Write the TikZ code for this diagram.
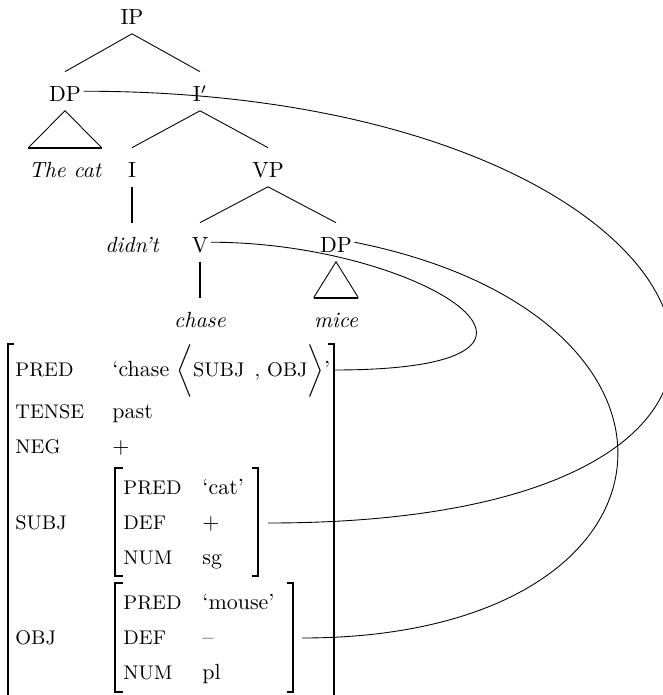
\documentclass[tikz,border=0pt]{standalone}

\begin{document}
\begin{tikzpicture}[x=0.455pt, y=-0.455pt,
    tn/.style={anchor=base, inner xsep=1pt, inner ysep=3.8pt,
        text height=9.8pt, text depth=0pt},
    leaf/.style={tn, inner xsep=0pt, font=\itshape},
    attr/.style={anchor=base west, inner sep=0pt, font=\small},
    val/.style={anchor=base west, inner sep=0pt}]
    \useasboundingbox (0, 0) rectangle (662, 695);
    % дерево
    \node[tn] (ip) at (132, 25) {IP};
    \node[tn] (dpa) at (65, 102) {DP};
    \node[tn] (ibar) at (200, 102) {I$'$};
    \node[leaf] (cat) at (65, 178) {The cat};
    \node[tn] (i) at (132, 178) {I};
    \node[tn] (vp) at (268, 178) {VP};
    \node[leaf] (didnt) at (132, 253) {didn't};
    \node[tn] (v) at (200, 253) {V};
    \node[tn] (dpb) at (336, 253) {DP};
    \node[leaf] (chase) at (200, 328) {chase};
    \node[leaf] (mice) at (336, 328) {mice};

    \draw (ip.south) -- (dpa.north);
    \draw (ip.south) -- (ibar.north);
    \draw (ibar.south) -- (i.north);
    \draw (ibar.south) -- (vp.north);
    \draw (vp.south) -- (v.north);
    \draw (vp.south) -- (dpb.north);
    \draw[thick] (i.south) -- (didnt.north);
    \draw[thick] (v.south) -- (chase.north);
    % треугольники
    \draw (cat.north west) -- (dpa.south) -- (cat.north east);
    \draw[thick] (cat.north west) -- (cat.north east);
    \draw (mice.north west) -- (dpb.south) -- (mice.north east);
    \draw[thick] (mice.north west) -- (mice.north east);

    % f-структура
    \draw[thick] (14, 344) -- (8, 344) -- (8, 705) -- (14, 705);
    \draw[thick] (328, 344) -- (334, 344) -- (334, 705) -- (328, 705);
    \node[attr] (fpred) at (15, 376) {PRED};
    \node[attr] (ftense) at (15, 418) {TENSE};
    \node[attr] (fneg) at (15, 453) {NEG};
    \node[attr] (fsubj) at (15, 529) {SUBJ};
    \node[attr] (fobj) at (15, 644) {OBJ};
    \node[val] (fchase) at (112, 376)
        {`chase $\bigg\langle${\small SUBJ\ \,, OBJ}$\bigg\rangle$'};
    \node[val] (fpast) at (112, 418) {past};
    \node[val] (fplus) at (112, 453) {$+$};
    \coordinate (predR) at (334, 370);

    % subj
    \draw[thick] (123, 468) -- (115, 468) -- (115, 576) -- (123, 576);
    \draw[thick] (252, 468) -- (258, 468) -- (258, 576) -- (252, 576);
    \node[attr] (spred) at (123, 494) {PRED};
    \node[attr] (sdef) at (123, 529) {DEF};
    \node[attr] (snum) at (123, 564) {NUM};
    \node[val] (scat) at (202, 494) {`cat'};
    \node[val] (splus) at (202, 529) {$+$};
    \node[val] (ssg) at (202, 564) {sg};
    \coordinate (subjR) at (268, 523);

    % obj
    \draw[thick] (123, 583) -- (115, 583) -- (115, 692) -- (123, 692);
    \draw[thick] (287, 583) -- (293, 583) -- (293, 692) -- (287, 692);
    \node[attr] (opred) at (123, 609) {PRED};
    \node[attr] (odef) at (123, 644) {DEF};
    \node[attr] (onum) at (123, 679) {NUM};
    \node[val] (omouse) at (202, 609) {`mouse'};
    \node[val] (ominus) at (202, 644) {--};
    \node[val] (opl) at (202, 679) {pl};
    \coordinate (objR) at (302, 638);

    % связи
    \draw (dpa.east) .. controls +(655, 0) and +(645, 0) .. (subjR);
    \draw (v.east) .. controls +(210, 0) and +(286, 0) .. (predR);
    \draw (dpb.east) .. controls +(375, 75) and +(395, 0) .. (objR);
\end{tikzpicture}
\end{document}
